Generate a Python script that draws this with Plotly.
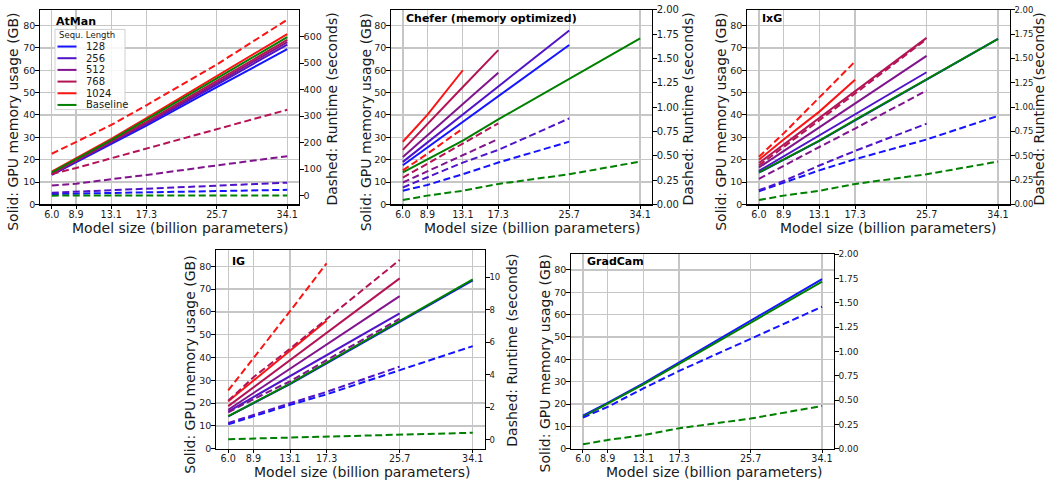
import plotly.graph_objects as go

W, H = 1047, 486

# ---------------- data ----------------
model_sizes = [6.0, 8.9, 13.1, 17.3, 25.7, 34.1]
model_size_labels = ["6.0", "8.9", "13.1", "17.3", "25.7", "34.1"]
seq_lengths = ["128", "256", "512", "768", "1024"]
seq_colors = ["rgb(20,20,255)", "rgb(80,20,200)", "rgb(128,20,140)", "rgb(180,20,85)", "rgb(250,20,20)"]
baseline_color = "rgb(0,128,0)"

# AtMan (memory GB, runtime seconds) -- rows: 128, 256, 512, 768, 1024
atman_mem = [
    [13.2, 18.8, 26.8, 35.2, 52.4, 69.4],
    [13.4, 19.1, 27.3, 35.9, 53.6, 71.5],
    [13.6, 19.4, 27.7, 36.4, 54.4, 72.6],
    [13.8, 19.7, 28.1, 36.9, 55.2, 73.6],
    [14.6, 20.6, 29.3, 38.6, 57.3, 76.2],
]
atman_rt = [
    [6, 7.5, 10, 12.5, 17.5, 22],
    [11, 15, 21, 27, 39, 49],
    [38, 45, 62, 78, 114, 149],
    [82, 104, 141, 178, 252, 324],
    [158, 203, 267, 341, 495, 664],
]
atman_base_mem = [14.3, 20.2, 28.7, 37.9, 56.3, 74.8]
atman_base_rt = [0.045, 0.09, 0.14, 0.21, 0.31, 0.44]

# Chefer (memory optimized)
chefer_mem = [
    [17.5, 25.4, 36.9, 48.2, 71.3],
    [19.0, 27.7, 40.2, 52.7, 77.8],
    [21.2, 30.9, 44.9, 58.9],
    [24.4, 36.0, 52.5, 69.0],
    [28.0, 40.0, 60.0],
]
chefer_rt = [
    [0.141, 0.20, 0.31, 0.43, 0.645],
    [0.174, 0.28, 0.43, 0.56, 0.884],
    [0.225, 0.34, 0.506, 0.672],
    [0.275, 0.42, 0.63, 0.833],
    [0.35, 0.52, 0.78],
]
chefer_base_mem = [14.3, 20.0, 28.5, 38.0, 56.0, 74.3]
chefer_base_rt = [0.045, 0.09, 0.14, 0.21, 0.31, 0.44]

# IxG
ixg_mem = [
    [14.2, 20.0, 28.4, 37.6, 55.8, 74.0],
    [15.0, 21.5, 30.9, 40.3, 59.1],
    [16.5, 23.8, 34.5, 45.1, 66.4],
    [18.5, 26.7, 38.7, 50.6, 74.5],
    [20.0, 29.0, 41.5, 55.7],
]
ixg_rt = [
    [0.135, 0.22, 0.35, 0.465, 0.667, 0.91],
    [0.145, 0.24, 0.40, 0.55, 0.83],
    [0.263, 0.40, 0.59, 0.78, 1.17],
    [0.40, 0.59, 0.87, 1.14, 1.70],
    [0.49, 0.73, 1.10, 1.47],
]
ixg_base_mem = [14.3, 20.0, 28.5, 37.8, 55.8, 74.0]
ixg_base_rt = [0.045, 0.09, 0.14, 0.21, 0.31, 0.44]

# IG
ig_mem = [
    [14.2, 19.9, 28.3, 37.4, 55.6, 73.8],
    [16.3, 22.6, 31.8, 41.0, 59.4],
    [17.1, 24.4, 35.1, 45.7, 66.9],
    [18.7, 26.9, 38.9, 50.8, 74.7],
    [20.8, 29.9, 43.0, 56.1],
]
ig_rt = [
    [0.96, 1.45, 2.15, 2.8, 4.3, 5.76],
    [1.04, 1.55, 2.25, 2.95, 4.5],
    [1.7, 2.5, 3.6, 4.9, 7.44],
    [2.4, 3.85, 5.6, 7.4, 11.05],
    [3.04, 5.0, 7.9, 10.84],
]
ig_base_mem = [14.3, 20.0, 28.5, 37.8, 56.0, 74.3]
ig_base_rt = [0.045, 0.09, 0.14, 0.21, 0.31, 0.44]

# GradCam (only 128)
gradcam_mem = [
    [14.8, 20.5, 29.2, 38.5, 57.0, 75.9],
]
gradcam_rt = [
    [0.32, 0.43, 0.62, 0.80, 1.13, 1.46],
]
gradcam_base_mem = [14.3, 20.2, 28.8, 38.0, 56.3, 74.7]
gradcam_base_rt = [0.045, 0.09, 0.14, 0.21, 0.31, 0.44]

rt_ticks_atman = [0, 100, 200, 300, 400, 500, 600]
rt_ticks_frac = [0, 0.25, 0.5, 0.75, 1.0, 1.25, 1.5, 1.75, 2.0]
rt_ticks_ig = [0, 2, 4, 6, 8, 10]
mem_ticks = [0, 10, 20, 30, 40, 50, 60, 70, 80]

# ---------------- layout helpers ----------------
def px(x):
    return x / W

def py(y):
    return 1 - y / H

FONT = "DejaVu Sans"
TXT = "#1a1a1a"
GRID = "#c6c6c6"

panels = [
    dict(name="AtMan", mem=atman_mem, rt=atman_rt, bmem=atman_base_mem, brt=atman_base_rt,
         box=(40, 299, 5, 204), rrange=[-33, 701], rticks=rt_ticks_atman, rfmt="{:d}", rfs=9.5,
         label=(54, 17), xt=(180, 228), yl=(13.5, 120), yr=(332.5, 106.5)),
    dict(name="Chefer (memory optimized)", mem=chefer_mem, rt=chefer_rt, bmem=chefer_base_mem, brt=chefer_base_rt,
         box=(391, 652, 5, 204), rrange=[0, 2], rticks=rt_ticks_frac, rfmt="{:.2f}", rfs=10,
         label=(404, 14), xt=(532, 228), yl=(366, 120), yr=(688.5, 106.5)),
    dict(name="IxG", mem=ixg_mem, rt=ixg_rt, bmem=ixg_base_mem, brt=ixg_base_rt,
         box=(747, 1010, 5, 204), rrange=[0, 2], rticks=rt_ticks_frac, rfmt="{:.2f}", rfs=8.5,
         label=(760, 14), xt=(888.5, 228), yl=(721.5, 120), yr=(1039.5, 106.5)),
    dict(name="IG", mem=ig_mem, rt=ig_rt, bmem=ig_base_mem, brt=ig_base_rt,
         box=(216, 485, 251, 454), rrange=[-0.54, 11.64], rticks=rt_ticks_ig, rfmt="{:d}", rfs=8.5,
         label=(230, 262.5), xt=(362, 477.5), yl=(190, 368), yr=(511.7, 353)),
    dict(name="GradCam", mem=gradcam_mem, rt=gradcam_rt, bmem=gradcam_base_mem, brt=gradcam_base_rt,
         box=(571, 834, 255, 454), rrange=[0, 2], rticks=rt_ticks_frac, rfmt="{:.2f}", rfs=9,
         label=(585, 262.5), xt=(714, 477.5), yl=(545, 366.7), yr=None),
]

fig = go.Figure()
layout = dict(
    width=W, height=H, margin=dict(l=0, r=0, t=0, b=0),
    paper_bgcolor="white", plot_bgcolor="white",
    showlegend=False, font=dict(family=FONT, color=TXT),
)
annotations = []
shapes = []

for k, p in enumerate(panels, start=1):
    xa, ya, ya2 = f"x{k}", f"y{k}", f"y{k + 5}"
    for i, mem in enumerate(p["mem"]):
        fig.add_trace(go.Scatter(x=model_sizes[:len(mem)], y=mem, mode="lines",
                                 line=dict(color=seq_colors[i], width=2),
                                 xaxis=xa, yaxis=ya, name=seq_lengths[i], hoverinfo="skip"))
    fig.add_trace(go.Scatter(x=model_sizes[:len(p["bmem"])], y=p["bmem"], mode="lines",
                             line=dict(color=baseline_color, width=2),
                             xaxis=xa, yaxis=ya, name="Baseline", hoverinfo="skip"))
    for i, rt in enumerate(p["rt"]):
        fig.add_trace(go.Scatter(x=model_sizes[:len(rt)], y=rt, mode="lines",
                                 line=dict(color=seq_colors[i], width=2, dash="7px,3.5px"),
                                 xaxis=xa, yaxis=ya2, name=seq_lengths[i], hoverinfo="skip"))
    fig.add_trace(go.Scatter(x=model_sizes[:len(p["brt"])], y=p["brt"], mode="lines",
                             line=dict(color=baseline_color, width=2, dash="7px,3.5px"),
                             xaxis=xa, yaxis=ya2, name="Baseline", hoverinfo="skip"))

    l, r, t, b = p["box"]
    xkey = "xaxis" if k == 1 else f"xaxis{k}"
    ykey = "yaxis" if k == 1 else f"yaxis{k}"
    layout[xkey] = dict(
        domain=[px(l), px(r)], anchor=ya, range=[4.595, 35.505],
        tickmode="array", tickvals=model_sizes, ticktext=model_size_labels,
        showgrid=True, gridcolor=GRID, gridwidth=1.3, zeroline=False,
        showline=True, linecolor="black", linewidth=1.2, mirror=True,
        ticks="outside", ticklen=3, tickwidth=1, tickcolor="black", ticklabelstandoff=-2,
        tickfont=dict(size=9.6, family=FONT, color=TXT),
    )
    layout[ykey] = dict(
        domain=[py(b), py(t)], anchor=xa, range=[0, 87],
        tickmode="array", tickvals=mem_ticks, ticktext=[str(v) for v in mem_ticks],
        showgrid=True, gridcolor=GRID, gridwidth=1.3, zeroline=False,
        showline=True, linecolor="black", linewidth=1.2,
        ticks="outside", ticklen=3.5, tickwidth=1, tickcolor="black", ticklabelstandoff=-2,
        tickfont=dict(size=9.5, family=FONT, color=TXT),
    )
    layout[f"yaxis{k + 5}"] = dict(
        overlaying=ya, side="right", anchor=xa, range=p["rrange"],
        tickmode="array", tickvals=p["rticks"],
        ticktext=[p["rfmt"].format(v) for v in p["rticks"]],
        showgrid=False, zeroline=False,
        showline=True, linecolor="black", linewidth=1.2,
        ticks="outside", ticklen=3.5, tickwidth=1, tickcolor="black", ticklabelstandoff=-2,
        tickfont=dict(size=p["rfs"], family=FONT, color=TXT),
    )
    lx, ly = p["label"]
    annotations.append(dict(text=f"<b>{p['name']}</b>", x=px(lx), y=py(ly), xref="paper", yref="paper",
                            xanchor="left", yanchor="middle", showarrow=False,
                            font=dict(size=11, family=FONT, color="black")))
    tx, ty = p["xt"]
    annotations.append(dict(text="Model size (billion parameters)", x=px(tx), y=py(ty),
                            xref="paper", yref="paper", xanchor="center", yanchor="middle",
                            showarrow=False, font=dict(size=14, family=FONT, color=TXT)))
    tx, ty = p["yl"]
    annotations.append(dict(text="Solid: GPU memory usage (GB)", x=px(tx), y=py(ty), textangle=-90,
                            xref="paper", yref="paper", xanchor="center", yanchor="middle",
                            showarrow=False, font=dict(size=14, family=FONT, color=TXT)))
    if p["yr"] is not None:
        tx, ty = p["yr"]
        annotations.append(dict(text="Dashed: Runtime (seconds)", x=px(tx), y=py(ty), textangle=-90,
                                xref="paper", yref="paper", xanchor="center", yanchor="middle",
                                showarrow=False, font=dict(size=14, family=FONT, color=TXT)))

# ---------------- legend (AtMan panel) ----------------
shapes.append(dict(type="rect", xref="paper", yref="paper",
                   x0=px(55), x1=px(125), y0=py(107), y1=py(25),
                   line=dict(color="#d0d0d0", width=1), fillcolor="rgba(255,255,255,0.85)", layer="above"))
annotations.append(dict(text="Sequ. Length", x=px(57), y=py(30.5), xref="paper", yref="paper",
                        xanchor="left", yanchor="middle", showarrow=False,
                        font=dict(size=8.5, family=FONT, color=TXT)))
legend_labels = seq_lengths + ["Baseline"]
legend_colors = seq_colors + [baseline_color]
for j, (lab, col) in enumerate(zip(legend_labels, legend_colors)):
    yy = 42.5 + j * 11.95
    shapes.append(dict(type="line", xref="paper", yref="paper", x0=px(57.5), x1=px(76.5),
                       y0=py(yy), y1=py(yy), line=dict(color=col, width=2), layer="above"))
    annotations.append(dict(text=lab, x=px(84), y=py(yy), xref="paper", yref="paper",
                            xanchor="left", yanchor="middle", showarrow=False,
                            font=dict(size=10, family=FONT, color=TXT)))

layout["annotations"] = annotations
layout["shapes"] = shapes
fig.update_layout(**layout)
fig.write_html("out.html", config={"displayModeBar": False, "staticPlot": True},
               post_script="document.body.style.margin='0';document.body.style.padding='0';")
